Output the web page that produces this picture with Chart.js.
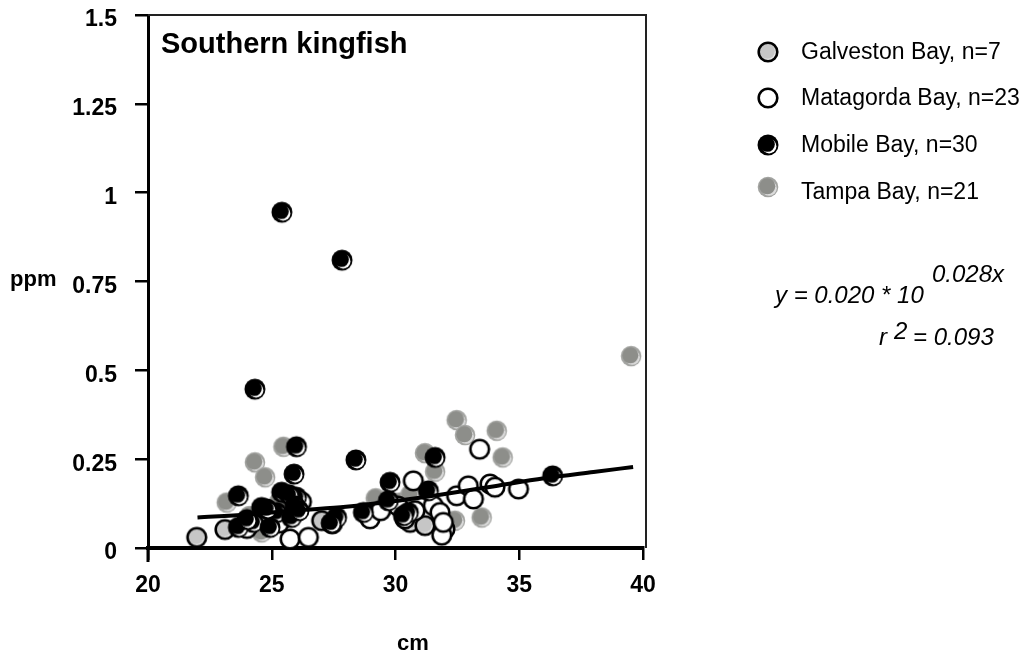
<!DOCTYPE html>
<html>
<head>
<meta charset="utf-8">
<title>Southern kingfish</title>
<script src="https://cdn.jsdelivr.net/npm/chart.js@4/dist/chart.umd.min.js"></script>
<style>
  html, body { margin: 0; padding: 0; background: #fff; }
  #grafico { display: block; }
</style>
</head>
<body>
<canvas id="grafico" width="1034" height="658"></canvas>
<script>
// Datos: [cm, ppm]
const galvestonBay = [
  [21.97, 0.030], [23.11, 0.052], [27.02, 0.077], [30.59, 0.072],
  [31.19, 0.063], [32.00, 0.053], [27.45, 0.068]
];
const matagordaBay = [
  [30.72, 0.189], [33.40, 0.278], [32.47, 0.147], [32.94, 0.175], [33.15, 0.138],
  [33.82, 0.180], [34.02, 0.171], [34.97, 0.166], [31.53, 0.119], [31.80, 0.100],
  [31.87, 0.036], [30.79, 0.105], [25.74, 0.025], [26.48, 0.030], [28.97, 0.091],
  [28.97, 0.082], [31.93, 0.072], [30.38, 0.082], [24.00, 0.055], [25.30, 0.070],
  [29.40, 0.105], [30.10, 0.118], [26.20, 0.130]
];
const mobileBay = [
  [25.41, 0.945], [27.84, 0.810], [24.32, 0.447], [26.00, 0.285], [28.40, 0.248],
  [25.90, 0.208], [31.60, 0.255], [29.78, 0.185], [36.35, 0.203], [23.65, 0.147],
  [25.40, 0.157], [26.00, 0.143], [25.70, 0.150], [24.59, 0.114], [25.20, 0.100],
  [24.25, 0.072], [23.65, 0.058], [24.93, 0.058], [25.80, 0.086], [27.62, 0.086],
  [28.70, 0.100], [29.71, 0.133], [31.33, 0.161], [30.52, 0.100], [30.32, 0.091],
  [24.80, 0.110], [25.94, 0.119], [26.10, 0.105], [24.00, 0.080], [27.40, 0.070]
];
const tampaBay = [
  [25.47, 0.285], [24.32, 0.241], [24.73, 0.199], [23.18, 0.128], [31.19, 0.267],
  [32.47, 0.360], [32.81, 0.318], [34.09, 0.330], [34.33, 0.255], [31.60, 0.215],
  [30.18, 0.128], [32.40, 0.077], [33.48, 0.086], [39.52, 0.540], [24.59, 0.044],
  [24.10, 0.090], [25.30, 0.130], [29.60, 0.120], [30.60, 0.150], [25.90, 0.100],
  [29.20, 0.140]
];

const ajusteX = [22, 24, 26, 28, 30, 32, 34, 36, 38, 39.6];
const ajusteY = [0.086, 0.094, 0.106, 0.116, 0.132, 0.152, 0.174, 0.196, 0.214, 0.228];

const nombresSeries = ['Galveston Bay', 'Matagorda Bay', 'Mobile Bay', 'Tampa Bay'];
const ticksX = [20, 25, 30, 35, 40];
const ticksY = [0, 0.25, 0.5, 0.75, 1, 1.25, 1.5];

const FUENTE = '"Liberation Sans", Arial, sans-serif';

// Marcadores con efecto de sombra (media luna clara abajo a la derecha)
function crearMarcador(tipo) {
    const c = document.createElement('canvas');
    c.width = 24;
    c.height = 24;
    const ctx = c.getContext('2d');
    const circulo = (x, y, r, color) => {
        ctx.beginPath();
        ctx.arc(x, y, r, 0, Math.PI * 2);
        ctx.fillStyle = color;
        ctx.fill();
    };
    if (tipo === 'mobile') {
        circulo(12, 12, 10.5, '#000');
        circulo(13.2, 13.2, 7.2, '#fff');
        circulo(11.4, 11.4, 7.4, '#000');
    } else if (tipo === 'tampa') {
        circulo(12, 12, 10.3, '#a2a3a0');
        circulo(13.2, 13.2, 7.6, '#dcdcdc');
        circulo(11.3, 11.3, 8, '#8d8e8a');
    } else {
        const relleno = tipo === 'galveston' ? '#c6c6c6' : '#fff';
        circulo(12, 12, 9.5, relleno);
        if (tipo === 'galveston') {
            circulo(13, 13, 7, '#e6e6e6');
            circulo(11.5, 11.5, 7.3, relleno);
        }
        ctx.beginPath();
        ctx.arc(12, 12, 9.3, 0, Math.PI * 2);
        ctx.lineWidth = 2.6;
        ctx.strokeStyle = '#000';
        ctx.stroke();
    }
    return c;
}

const marcadores = {
    galveston: crearMarcador('galveston'),
    matagorda: crearMarcador('matagorda'),
    mobile: crearMarcador('mobile'),
    tampa: crearMarcador('tampa')
};

const aPuntos = arr => arr.map(p => ({ x: p[0], y: p[1] }));

// Textos, leyenda y marco que Chart.js no dibuja solo
const textosExtra = {
    id: 'textosExtra',
    afterDraw(chart) {
        const ctx = chart.ctx;
        const area = chart.chartArea;
        ctx.save();

        // marco superior y derecho
        ctx.strokeStyle = '#222';
        ctx.lineWidth = 2;
        ctx.beginPath();
        ctx.moveTo(area.left, area.top);
        ctx.lineTo(area.right + 3, area.top);
        ctx.lineTo(area.right + 3, area.bottom);
        ctx.stroke();

        // prolongacion del eje y bajo el cero
        ctx.strokeStyle = '#000';
        ctx.lineWidth = 3;
        ctx.beginPath();
        ctx.moveTo(area.left, area.bottom);
        ctx.lineTo(area.left, area.bottom + 14);
        ctx.stroke();

        ctx.fillStyle = '#000';
        ctx.textBaseline = 'alphabetic';
        ctx.textAlign = 'left';
        ctx.font = `bold 29px ${FUENTE}`;
        ctx.fillText('Southern kingfish', 161, 53);

        ctx.font = `bold 22px ${FUENTE}`;
        ctx.fillText('ppm', 10, 286);
        ctx.textAlign = 'center';
        ctx.fillText('cm', 413, 650);

        // leyenda
        const filas = [52, 98, 145, 192];
        const claves = ['galveston', 'matagorda', 'mobile', 'tampa'];
        const series = [galvestonBay, matagordaBay, mobileBay, tampaBay];
        ctx.textAlign = 'left';
        ctx.textBaseline = 'middle';
        ctx.font = `23px ${FUENTE}`;
        filas.forEach((y, i) => {
            const img = marcadores[claves[i]];
            const dy = claves[i] === 'tampa' ? -5 : 0;
            ctx.drawImage(img, 768 - 12, y - 12 + dy);
            ctx.fillText(`${nombresSeries[i]}, n=${series[i].length}`, 801, y + 1);
        });

        // ecuacion del ajuste
        ctx.textBaseline = 'alphabetic';
        ctx.font = `italic 24px ${FUENTE}`;
        ctx.fillText('y = 0.020 * 10', 775, 303);
        ctx.fillText('0.028x', 932, 282);
        ctx.fillText('r', 879, 345);
        ctx.fillText('2', 894, 339);
        ctx.fillText('= 0.093', 913, 345);

        ctx.restore();
    }
};

document.addEventListener('DOMContentLoaded', function() {
    Chart.defaults.font.family = FUENTE;
    Chart.defaults.color = '#000';

    const ctx = document.getElementById('grafico').getContext('2d');
    new Chart(ctx, {
        type: 'scatter',
        data: {
            datasets: [
                {
                    label: 'ajuste',
                    data: ajusteX.map((x, i) => ({ x: x, y: ajusteY[i] })),
                    showLine: true,
                    borderColor: '#000',
                    borderWidth: 4,
                    pointRadius: 0,
                    tension: 0.4,
                    cubicInterpolationMode: 'monotone',
                    order: 0
                },
                { label: nombresSeries[2], data: aPuntos(mobileBay), pointStyle: marcadores.mobile, pointRadius: 10, order: 1 },
                { label: nombresSeries[1], data: aPuntos(matagordaBay), pointStyle: marcadores.matagorda, pointRadius: 10, order: 2 },
                { label: nombresSeries[0], data: aPuntos(galvestonBay), pointStyle: marcadores.galveston, pointRadius: 10, order: 3 },
                { label: nombresSeries[3], data: aPuntos(tampaBay), pointStyle: marcadores.tampa, pointRadius: 10, order: 4 }
            ]
        },
        options: {
            responsive: false,
            animation: false,
            devicePixelRatio: 1,
            layout: { padding: { left: 0, top: 15, right: 391, bottom: 0 } },
            plugins: {
                legend: { display: false },
                tooltip: { enabled: false }
            },
            scales: {
                x: {
                    type: 'linear',
                    min: 20,
                    max: 40,
                    afterBuildTicks: scale => { scale.ticks = ticksX.map(v => ({ value: v })); },
                    afterFit: scale => {
                        scale.height = 110;
                        scale.paddingLeft = 0;
                        scale.paddingRight = 0;
                    },
                    border: { display: true, color: '#000', width: 4 },
                    grid: { drawOnChartArea: false, drawTicks: true, tickLength: 12, color: '#000', lineWidth: 2.5 },
                    ticks: { font: { size: 23, weight: 'bold' }, padding: 12, maxRotation: 0 }
                },
                y: {
                    type: 'linear',
                    min: 0,
                    max: 1.5,
                    afterBuildTicks: scale => { scale.ticks = ticksY.map(v => ({ value: v })); },
                    afterFit: scale => {
                        scale.width = 148;
                        scale.paddingTop = 0;
                        scale.paddingBottom = 0;
                    },
                    border: { display: true, color: '#000', width: 3 },
                    grid: { drawOnChartArea: false, drawTicks: true, tickLength: 13, color: '#000', lineWidth: 2.5 },
                    ticks: {
                        font: { size: 23, weight: 'bold' },
                        padding: 18,
                        labelOffset: 5,
                        callback: v => String(v)
                    }
                }
            }
        },
        plugins: [textosExtra]
    });
});
</script>
</body>
</html>
